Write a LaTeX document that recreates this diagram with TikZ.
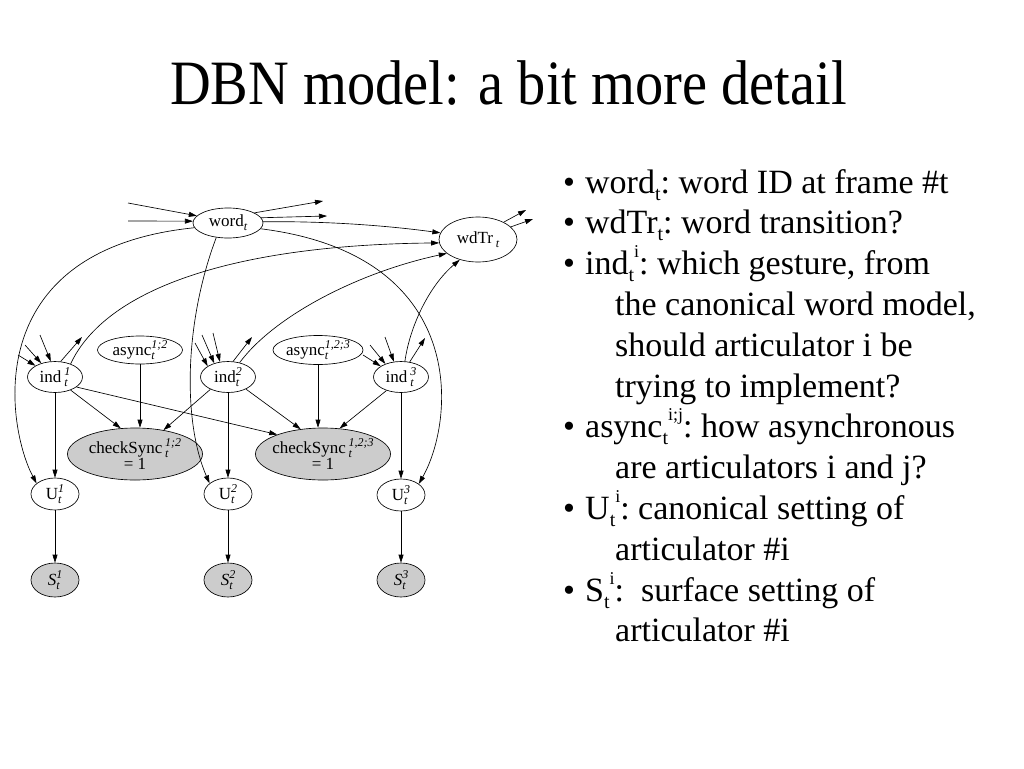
\documentclass[tikz,border=0pt]{standalone}
\usepackage{fontspec}
\setmainfont{Liberation Serif}
\usepackage{graphicx}
\usetikzlibrary{shapes.geometric,arrows.meta}
% stacked sup/sub for diagram nodes (italic)
\newcommand{\nstk}[2]{{\fontsize{12}{12}\selectfont\itshape\setbox0\hbox{#1}\setbox2\hbox{#2}%
  \ifdim\wd0>\wd2 \rlap{\raisebox{-4pt}{#2}}\raisebox{7pt}{#1}\else\rlap{\raisebox{7pt}{#1}}\raisebox{-4pt}{#2}\fi}}
% sub then sup for body text (upright, sequential)
\newcommand{\bsub}[1]{\raisebox{-7pt}{\fontsize{20}{20}\selectfont #1}}
\newcommand{\bsup}[1]{\raisebox{17pt}{\fontsize{18}{18}\selectfont #1}}
\newcommand{\bul}{\makebox[22pt][l]{•}}
\newcommand{\hang}{\hspace*{52pt}}
\begin{document}
\begin{tikzpicture}[x=1pt,y=-1pt,
  rv/.style={ellipse, draw, line width=0.65pt, inner sep=0pt, fill=white,
             font=\fontsize{17}{18}\selectfont},
  obs/.style={rv, fill=black!20},
  arr/.style={-{Triangle[length=8pt,width=5pt]}, line width=0.65pt}]
\path[use as bounding box, fill=white] (0,0) rectangle (1024,768);

% title
\node[anchor=base, inner sep=0pt] (title) at (508.5,104)
  {\fontsize{56.4}{58}\selectfont\scalebox{1}[1.12]{DBN model: a bit more detail}};

% nodes
\node[rv, minimum width=70pt, minimum height=30pt] (word) at (228,223) {word\nstk{}{t}};
\node[rv, minimum width=78pt, minimum height=45pt] (wdTr) at (478,239.5) {wdTr\,\nstk{}{t}};
\node[rv, minimum width=55pt, minimum height=31pt] (ind1) at (55,377) {ind\,\nstk{1}{t}};
\node[rv, minimum width=55pt, minimum height=31pt] (ind2) at (228,377) {ind\nstk{2}{t}};
\node[rv, minimum width=55pt, minimum height=31pt] (ind3) at (401,377) {ind\,\nstk{3}{t}};
\node[rv, minimum width=85pt, minimum height=28pt] (as12) at (140,350) {async\nstk{1;2}{t}};
\node[rv, minimum width=87pt, minimum height=29pt] (as123) at (318,350) {async\nstk{1,2;3}{t}};
\node[obs, minimum width=135pt, minimum height=52pt, inner xsep=-3pt, align=center] (cs12) at (135,454)
  {checkSync\,\nstk{1;2}{t}\\[-2pt]= 1};
\node[obs, minimum width=133pt, minimum height=52pt, inner xsep=-3pt, align=center] (cs123) at (323,454)
  {checkSync\,\nstk{1,2;3}{t}\\[-2pt]= 1};
\node[rv, minimum width=48pt, minimum height=32pt] (U1) at (55,494) {U\nstk{1}{t}};
\node[rv, minimum width=48pt, minimum height=32pt] (U2) at (228,494) {U\nstk{2}{t}};
\node[rv, minimum width=48pt, minimum height=32pt] (U3) at (401,495) {U\nstk{3}{t}};
\node[obs, minimum width=48pt, minimum height=34pt] (S1) at (55,580) {\textit{S}\nstk{1}{t}};
\node[obs, minimum width=48pt, minimum height=34pt] (S2) at (228,580) {\textit{S}\nstk{2}{t}};
\node[obs, minimum width=48pt, minimum height=34pt] (S3) at (401,580) {\textit{S}\nstk{3}{t}};

% free ends
\coordinate (win1) at (128,203);
\coordinate (win2) at (128,221);
\coordinate (wout1) at (323,201);
\coordinate (wout2) at (327,216);
\coordinate (dout1) at (526,210);
\coordinate (dout2) at (533,219);
\coordinate (i1a) at (18,355);
\coordinate (i1b) at (25,345);
\coordinate (i1c) at (40,335);
\coordinate (i1o) at (82,337);
\coordinate (i2a) at (195,343);
\coordinate (i2b) at (202,335);
\coordinate (i2c) at (213,333);
\coordinate (i2o) at (252,337);
\coordinate (i3a) at (363,355);
\coordinate (i3b) at (370,345);
\coordinate (i3c) at (385,337);
\coordinate (i3o) at (425,338);

% word edges
\draw[arr] (win1) -- (word.167);
\draw[arr] (win2) -- (word.177);
\draw[arr] (word.21) -- (wout1);
\draw[arr] (word.9) -- (wout2);
\draw[arr] (word.2) .. controls (330,221) and (390,226) .. (wdTr.170);
\draw[arr] (word.188) .. controls (-25,250) and (8,430) .. (U1.150);
\draw[arr] (word.231) .. controls (185,320) and (182,420) .. (U2.150);
\draw[arr] (word.-10) .. controls (470,255) and (455,420) .. (U3.32);

% ind -> wdTr
\draw[arr] (ind1.40) .. controls (105,290) and (230,245) .. (wdTr.185);
\draw[arr] (ind2.51) .. controls (275,315) and (360,272) .. (wdTr.204);
\draw[arr] (ind3.76) .. controls (410,325) and (430,285) .. (wdTr.228);
\draw[arr] (wdTr.34) -- (dout1);
\draw[arr] (wdTr.21) -- (dout2);

% stubs at ind nodes
\draw[arr] (i1a) -- (ind1.150);
\draw[arr] (i1b) -- (ind1.135);
\draw[arr] (i1c) -- (ind1.105);
\draw[arr] (ind1.70) -- (i1o);
\draw[arr] (i2a) -- (ind2.152);
\draw[arr] (i2b) -- (ind2.135);
\draw[arr] (i2c) -- (ind2.118);
\draw[arr] (ind2.72) -- (i2o);
\draw[arr] (i3a) -- (ind3.152);
\draw[arr] (i3b) -- (ind3.140);
\draw[arr] (i3c) -- (ind3.115);
\draw[arr] (ind3.60) -- (i3o);

% to checkSync
\draw[arr] (ind1.-40) -- (cs12.119);
\draw[arr] (as12.south) -- (as12.south |- cs12.north);
\draw[arr] (ind2.215) -- (cs12.40);
\draw[arr] (ind1.-25) -- (cs123.157);
\draw[arr] (ind2.-34) -- (cs123.132);
\draw[arr] (as123.south) -- (as123.south |- cs123.north);
\draw[arr] (ind3.223) -- (cs123.57);

% ind -> U -> S
\draw[arr] (ind1) -- (U1);
\draw[arr] (ind2) -- (U2);
\draw[arr] (ind3) -- (U3);
\draw[arr] (U1) -- (S1);
\draw[arr] (U2) -- (S2);
\draw[arr] (U3) -- (S3);

% right text
\node[anchor=base west, inner sep=0pt] (txt) at (563,193) {\parbox[t]{455pt}{%
\fontsize{34}{40.8}\selectfont\lineskiplimit=-\maxdimen\raggedright\frenchspacing
\bul word\bsub{t}: word ID at frame \#t\\
\bul wdTr\bsub{t}: word transition?\\
\bul ind\bsub{t}\bsup{i}: which gesture, from\\
\hang the canonical word model,\\
\hang should articulator i be\\
\hang trying to implement?\\
\bul async\bsub{t}\bsup{i;j}: how asynchronous\\
\hang are articulators i and j?\\
\bul U\bsub{t}\bsup{i}: canonical setting of\\
\hang articulator \#i\\
\bul S\bsub{t}\bsup{i}:\ \ surface setting of\\
\hang articulator \#i}};
\end{tikzpicture}
\end{document}
